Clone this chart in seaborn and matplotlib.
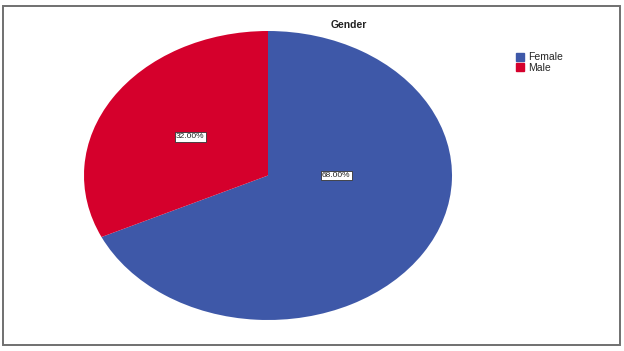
import matplotlib
matplotlib.use("Agg")
import matplotlib.pyplot as plt
import seaborn as sns
from matplotlib.patches import Rectangle
from matplotlib.lines import Line2D

categories = ["Female", "Male"]
values = [68.0, 32.0]
colors = ["#3E58A8", "#D5002C"]
title = "Gender"

sns.set_theme(style="white")
plt.rcParams['font.family'] = ['Liberation Sans', 'DejaVu Sans']

W, H = 624, 351
fig = plt.figure(figsize=(W / 100, H / 100), dpi=100)
fig.patch.set_facecolor("white")

# outer frame
fig.add_artist(Rectangle((3 / W, 6 / H), 617 / W, 339 / H, transform=fig.transFigure,
                         fill=False, edgecolor="#707070", linewidth=1.4))

ax = fig.add_axes([84 / W, (H - 320) / H, 368 / W, 289 / H])
wedges, texts, autotexts = ax.pie(values, colors=colors, startangle=90, counterclock=False,
                                  autopct=lambda p: f"{p:.2f}%", pctdistance=0.5,
                                  radius=1.0, wedgeprops=dict(linewidth=0, antialiased=True))
ax.set_aspect('auto')
ax.set_xlim(-1, 1)
ax.set_ylim(-1, 1)
ax.axis('off')

# label positions (SPSS-like)
autotexts[0].set_position((0.37, 0.0))
for t in autotexts:
    t.set_fontsize(6)
    t.set_color("#222222")
    t.set_bbox(dict(facecolor="white", edgecolor="#333333", boxstyle="square,pad=0.15", linewidth=0.6))

fig.text(349 / W, (H - 25) / H, title, ha="center", va="center", fontsize=7.5, fontweight="bold",
         color="#222222")

handles = [Line2D([0], [0], marker='s', linestyle='', markersize=6, markerfacecolor=c,
                  markeredgecolor=c) for c in colors]
fig.legend(handles, categories, loc="upper left", bbox_to_anchor=(511 / W, (H - 48) / H),
           frameon=False, fontsize=7.5, handletextpad=0.2, labelspacing=0.05,
           borderaxespad=0, handlelength=1.0)

fig.savefig("out.png", dpi=100)
